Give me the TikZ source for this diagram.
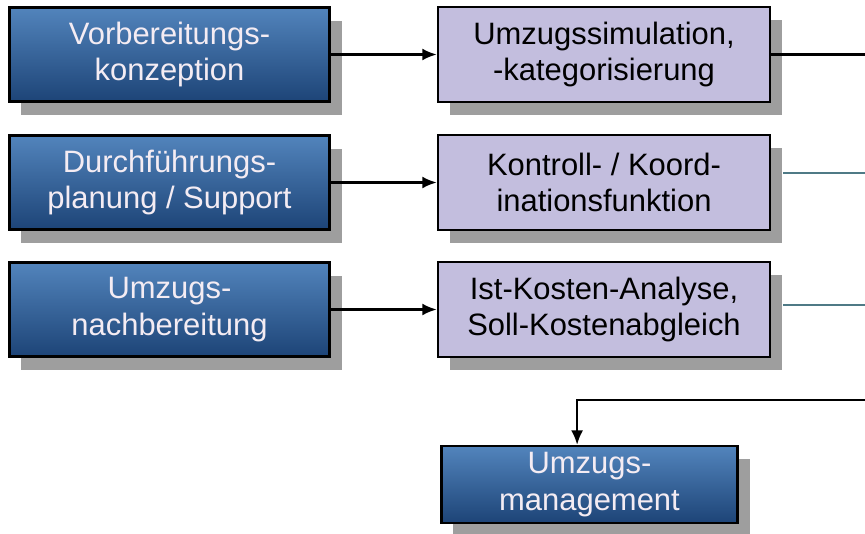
\documentclass[tikz,border=0pt]{standalone}
\usepackage{fontspec}
\setmainfont{Liberation Sans}
\usepackage{tikz}
\usetikzlibrary{arrows.meta,positioning,shadows}
\definecolor{BlueTop}{HTML}{5284BC}
\definecolor{BlueBot}{HTML}{1D4477}
\definecolor{Lilac}{HTML}{C3BEDE}
\definecolor{Shade}{HTML}{9E9E9E}
\definecolor{Pale}{HTML}{F4ECF3}
\definecolor{Slate}{HTML}{4F7A86}

\begin{document}
\begin{tikzpicture}[x=0.025cm,y=-0.025cm,
        box/.style={rectangle,draw=black,line width=1.8pt,align=center,
          font=\fontsize{22}{26}\selectfont,
          drop shadow={shadow xshift=0.3cm,shadow yshift=-0.33cm,fill=Shade,opacity=1}},
        blue/.style={box,top color=BlueTop,bottom color=BlueBot,text=Pale,
          minimum width=8.0cm,minimum height=2.35cm},
        lilac/.style={box,fill=Lilac,text=black,minimum width=8.3cm,minimum height=2.37cm},
        arr/.style={-{Latex[length=3.6mm,width=3mm]},draw=black,line width=1.6pt},
        ln/.style={draw=black,line width=1.6pt},
        lns/.style={draw=Slate,line width=1.2pt}]
        \useasboundingbox (0,0) rectangle (865,533);
        % left column
        \node[blue] (v) at (169.5,54.5) {Vorbereitungs-\\konzeption};
        \node[blue] (d) at (169.5,182.5) {Durchführungs-\\planung / Support};
        \node[blue] (n) at (169.5,309.5) {Umzugs-\\nachbereitung};
        % right column
        \node[lilac] (s) at (604,54.5) {Umzugssimulation,\\-kategorisierung};
        \node[lilac] (k) at (604,182.5) {Kontroll- / Koord-\\inationsfunktion};
        \node[lilac] (i) at (604,309.5) {Ist-Kosten-Analyse,\\Soll-Kostenabgleich};
        \node[blue,minimum width=7.4cm,minimum height=1.92cm] (m) at (589.5,484.5) {Umzugs-\\management};
        \coordinate (e1) at (865,54.5);
        \coordinate (e2) at (865,173);
        \coordinate (e3) at (865,305);
        \coordinate (e4) at (865,400);
        \draw[arr] (v)--(s);
        \draw[arr] (d)--(k);
        \draw[arr] (n)--(i);
        \draw[ln] (s.east)--(e1);
        \draw[lns] ([xshift=0.3cm]k.east |- e2)--(e2);
        \draw[lns] ([xshift=0.3cm]i.east |- e3)--(e3);
        \draw[arr] (e4) -| ([xshift=-0.31cm]m.north);
      \end{tikzpicture}
\end{document}
